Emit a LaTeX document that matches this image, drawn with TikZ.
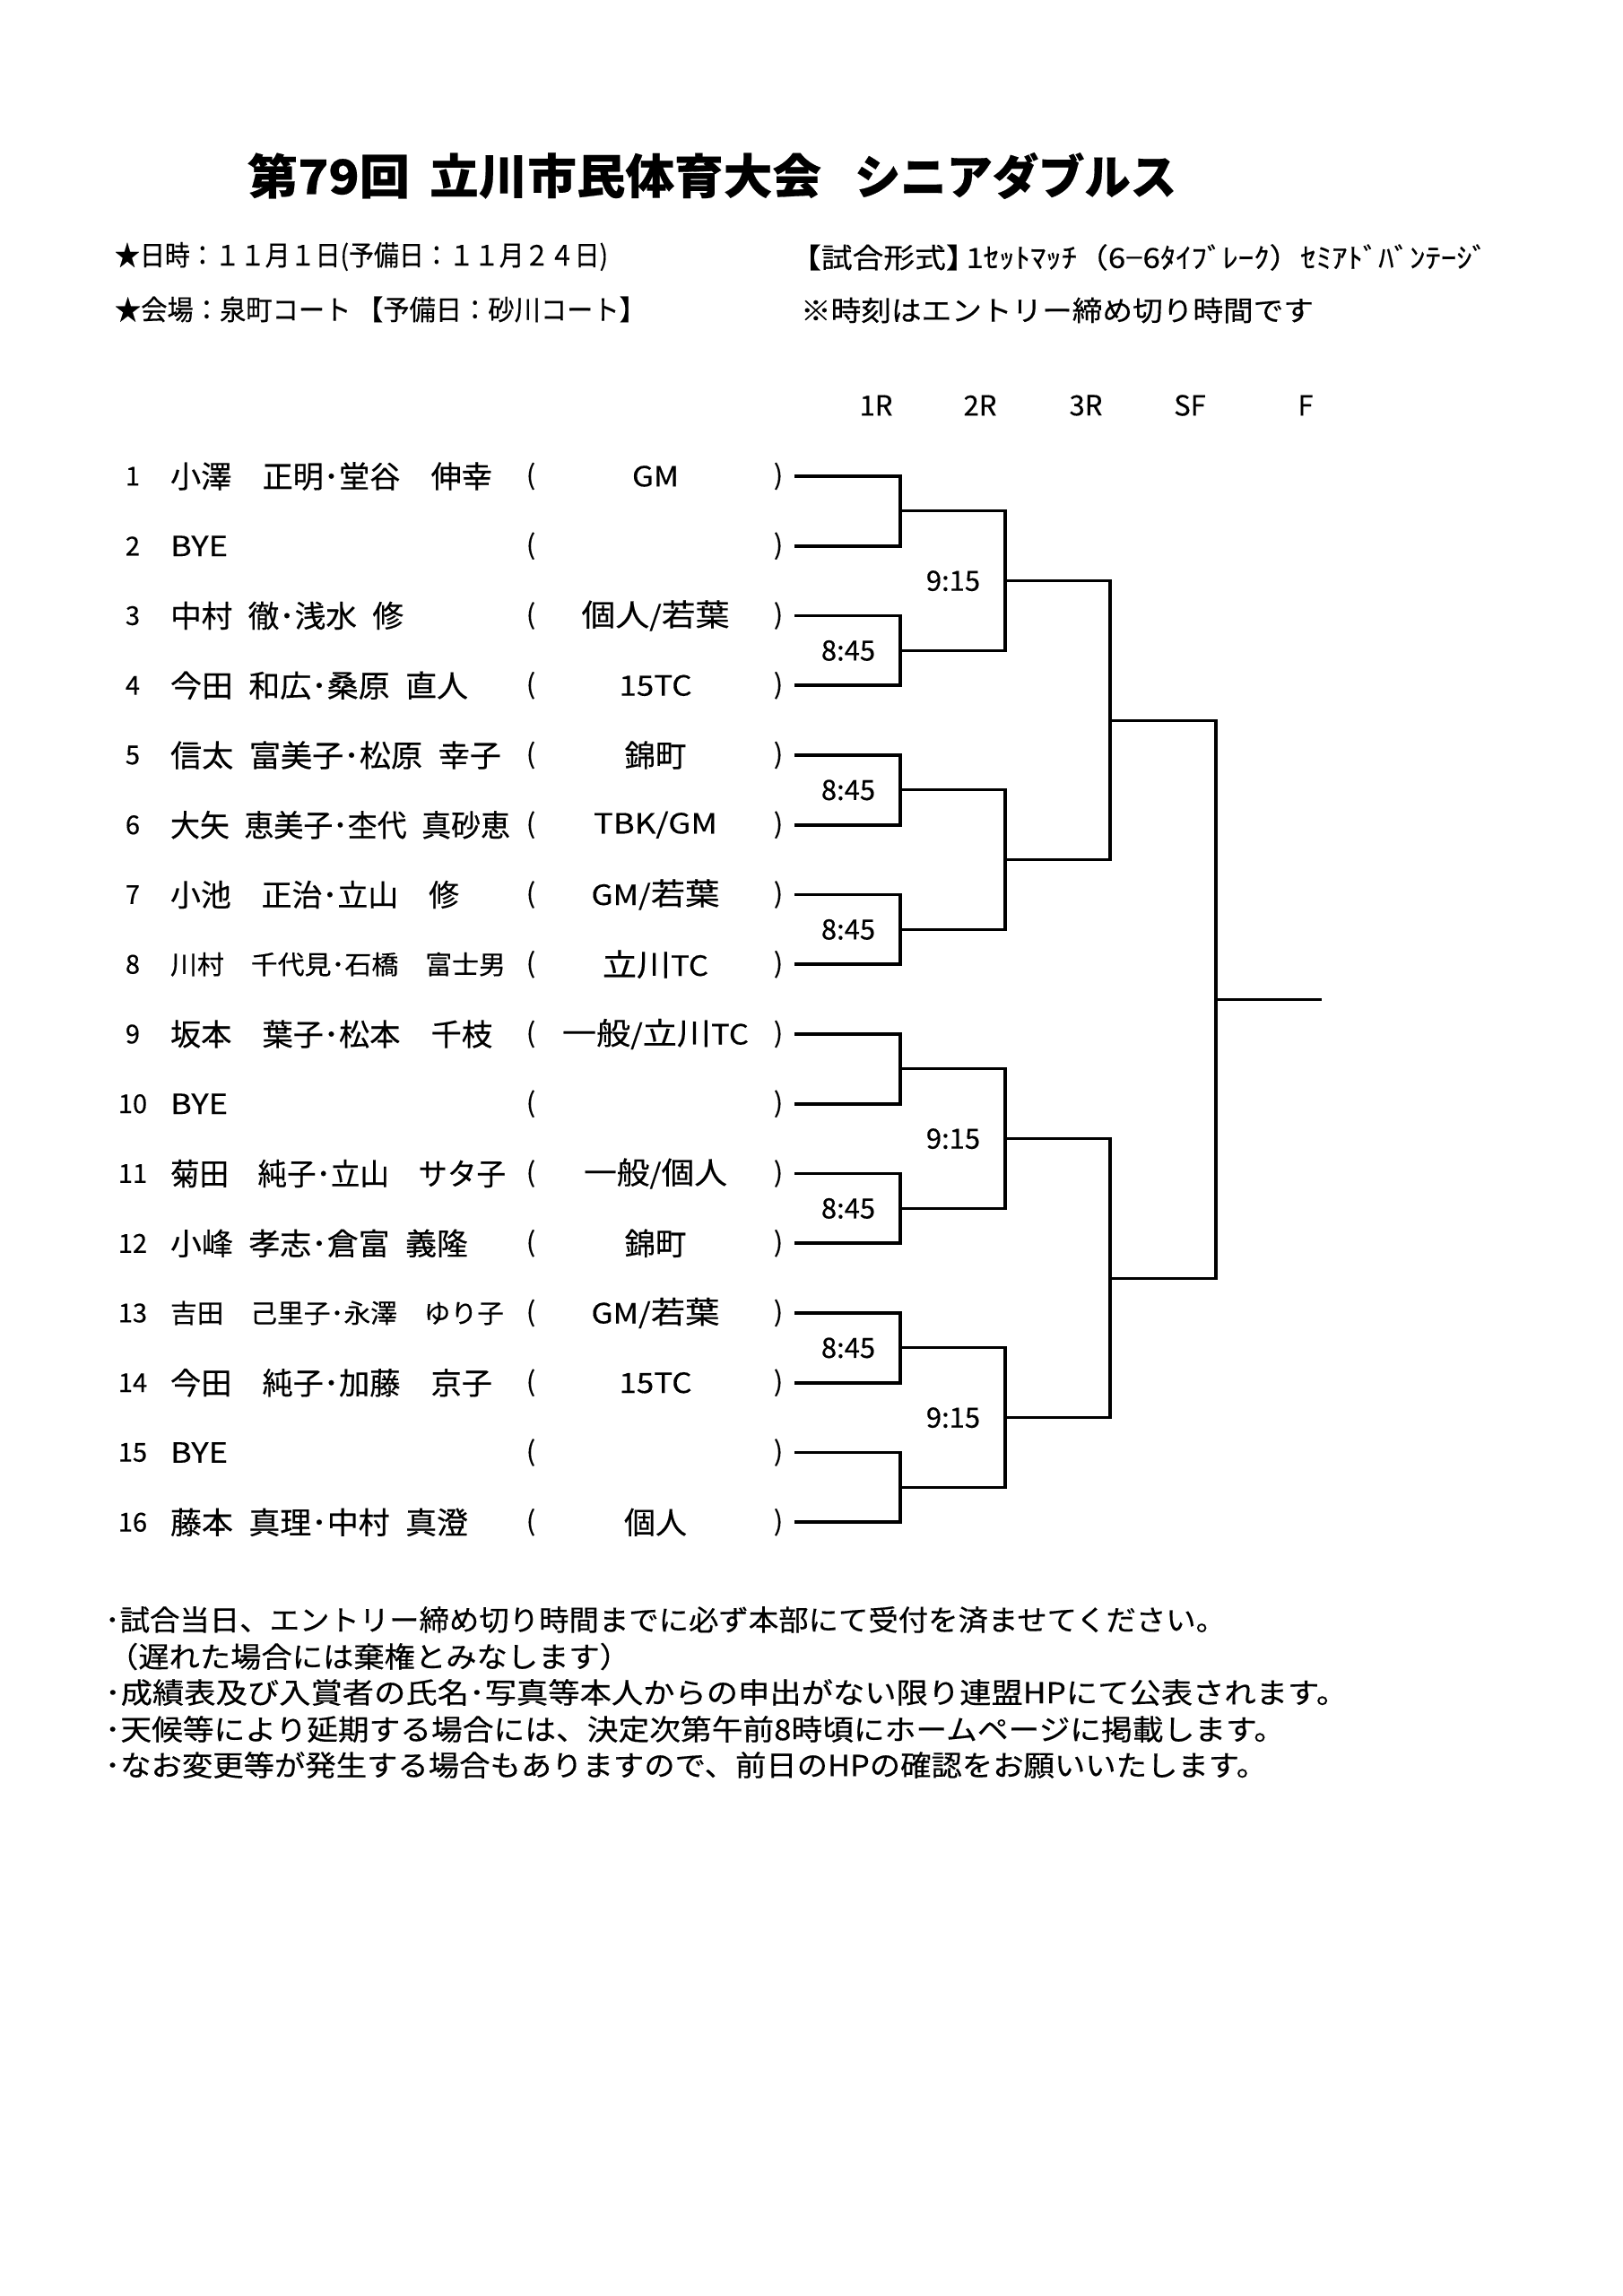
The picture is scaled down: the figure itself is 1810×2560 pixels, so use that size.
\documentclass[tikz,border=0pt]{standalone}
\usepackage{fontspec}
\usepackage{graphicx}
\setmainfont{Noto Sans CJK JP}[FakeBold=0.35]
\newcommand\fsz[1]{\fontsize{#1}{#1}\selectfont}
\newcommand\fw[2]{\resizebox{#1pt}{\height}{#2}}
\newcommand\lat[1]{{\fsz{31}#1}}
\newcommand\hsp{\hspace{0.5em}}
\tikzset{
  txt/.style={inner sep=0pt, outer sep=0pt, text=black},
  num/.style={txt, font=\fsz{29}},
  par/.style={txt, font=\fsz{30}},
  lbl/.style={txt, font=\fsz{31}},
  brk/.style={line width=3.8pt, line join=miter},
  lnk/.style={line width=3.2pt, line join=miter}
}
\newcommand\entry[3]{%
  \node[num] (n#1) at (148,{531+77.75*(#1-1)}) {#1};
  \node[txt, anchor=west] (nm#1) at (190,{531+77.75*(#1-1)}) {#2};
  \node[par] (lp#1) at (592,{531+77.75*(#1-1)}) {(};
  \node[txt] (c#1) at (731,{531+77.75*(#1-1)}) {#3};
  \node[par] (rp#1) at (868,{531+77.75*(#1-1)}) {)};
  \coordinate (p#1) at (886,{531+77.75*(#1-1)});
}
\begin{document}
\begin{tikzpicture}[x=1pt,y=-1pt]
\fill[white] (0,0) rectangle (1810,2560);
\useasboundingbox (0,0) rectangle (1810,2560);

% title
\node[txt, anchor=west] (t1) at (276,196) {\fw{181}{\fsz{53}\bfseries 第79回}};
\node[txt, anchor=west] (t2) at (479,196) {\fw{437}{\fsz{53}\bfseries 立川市民体育大会}};
\node[txt, anchor=west] (t3) at (953,196) {\fw{359}{\fsz{53}\bfseries シニアダブルス}};

% info
\node[txt, anchor=west] (i1) at (128,286) {\fw{550}{\fsz{31}★日時：１１月１日(予備日：１１月２４日)}};
\node[txt, anchor=west] (i2) at (128,345) {\fw{592}{\fsz{31}★会場：泉町コート 【予備日：砂川コート】}};
\node[txt, anchor=west] (i3) at (881,287) {\fw{778}{\fsz{31}【試合形式】\hspace{-0.35em}1ｾｯﾄﾏｯﾁ（6−6ﾀｲﾌﾞﾚｰｸ）ｾﾐｱﾄﾞﾊﾞﾝﾃｰｼﾞ}};
\node[txt, anchor=west] (i4) at (893,346) {\fw{572}{\fsz{31}※時刻はエントリー締め切り時間です}};

% round headers
\node[lbl] (h1) at (977,452) {1R};
\node[lbl] (h2) at (1093,452) {2R};
\node[lbl] (h3) at (1211,452) {3R};
\node[lbl] (h4) at (1327,452) {SF};
\node[lbl] (h5) at (1456,452) {F};

% entries
\entry{1}{\fw{359}{\fsz{34}小澤　正明･堂谷　伸幸}}{\fw{52}{\lat{GM}}}
\entry{2}{\fw{64}{\lat{BYE}}}{}
\entry{3}{\fw{260}{\fsz{34}中村\hsp 徹･浅水\hsp 修}}{\fw{165}{\fsz{34}個人\lat{/}若葉}}
\entry{4}{\fw{332}{\fsz{34}今田\hsp 和広･桑原\hsp 直人}}{\fw{81}{\lat{15TC}}}
\entry{5}{\fw{369}{\fsz{34}信太\hsp 富美子･松原\hsp 幸子}}{\fw{69}{\fsz{34}錦町}}
\entry{6}{\fw{379}{\fsz{34}大矢\hsp 恵美子･杢代\hsp 真砂恵}}{\fw{138}{\lat{TBK/GM}}}
\entry{7}{\fw{322}{\fsz{34}小池　正治･立山　修}}{\fw{143}{\fsz{34}\lat{GM/}若葉}}
\entry{8}{\fw{374}{\fsz{29}川村　千代見･石橋　富士男}}{\fw{118}{\fsz{34}立川\lat{TC}}}
\entry{9}{\fw{359}{\fsz{34}坂本　葉子･松本　千枝}}{\fw{208}{\fsz{34}一般\lat{/}立川\lat{TC}}}
\entry{10}{\fw{64}{\lat{BYE}}}{}
\entry{11}{\fw{374}{\fsz{34}菊田　純子･立山　サタ子}}{\fw{160}{\fsz{34}一般\lat{/}個人}}
\entry{12}{\fw{332}{\fsz{34}小峰\hsp 孝志･倉富\hsp 義隆}}{\fw{69}{\fsz{34}錦町}}
\entry{13}{\fw{372}{\fsz{29}吉田　己里子･永澤　ゆり子}}{\fw{143}{\fsz{34}\lat{GM/}若葉}}
\entry{14}{\fw{359}{\fsz{34}今田　純子･加藤　京子}}{\fw{81}{\lat{15TC}}}
\entry{15}{\fw{64}{\lat{BYE}}}{}
\entry{16}{\fw{332}{\fsz{34}藤本\hsp 真理･中村\hsp 真澄}}{\fw{70}{\fsz{34}個人}}

% bracket coordinates
\foreach \k in {1,...,8} \coordinate (a\k) at (1004,{531+77.75*(2*\k-1.5)});
\foreach \k in {1,...,4} \coordinate (b\k) at (1121,{531+77.75*(4*\k-2.5)});
\foreach \k in {1,2} \coordinate (q\k) at (1238,{531+77.75*(8*\k-4.5)});
\coordinate (d) at (1356,{531+77.75*7.5});
\coordinate (fin) at (1474,{531+77.75*7.5});

% first round
\foreach \k [evaluate=\k as \u using int(2*\k-1), evaluate=\k as \v using int(2*\k)] in {1,...,8}
  \draw[brk] (p\u) -| (a\k) |- (p\v);
% later rounds
\foreach \k [evaluate=\k as \u using int(2*\k-1), evaluate=\k as \v using int(2*\k)] in {1,...,4}
  \draw[lnk] (a\u) -| (b\k) |- (a\v);
\draw[lnk] (b1) -| (q1) |- (b2);
\draw[lnk] (b3) -| (q2) |- (b4);
\draw[lnk] (q1) -| (d) |- (q2);
\draw[lnk] (d) -- (fin);

% times
\node[lbl] (s1) at (1063,{531+77.75*1.5}) {9:15};
\node[lbl] (s2) at (946,{531+77.75*2.5}) {8:45};
\node[lbl] (s3) at (946,{531+77.75*4.5}) {8:45};
\node[lbl] (s4) at (946,{531+77.75*6.5}) {8:45};
\node[lbl] (s5) at (1063,{531+77.75*9.5}) {9:15};
\node[lbl] (s6) at (946,{531+77.75*10.5}) {8:45};
\node[lbl] (s7) at (946,{531+77.75*12.5}) {8:45};
\node[lbl] (s8) at (1063,{531+77.75*13.5}) {9:15};

% notes
\node[txt, anchor=west] (w1) at (117,1806) {\fw{1250}{\fsz{32}･試合当日、エントリー締め切り時間までに必ず本部にて受付を済ませてください。}};
\node[txt, anchor=west] (w2) at (120,1847) {\fw{583}{\fsz{32}（遅れた場合には棄権とみなします）}};
\node[txt, anchor=west] (w3) at (117,1887) {\fw{1386}{\fsz{32}･成績表及び入賞者の氏名･写真等本人からの申出がない限り連盟HPにて公表されます。}};
\node[txt, anchor=west] (w4) at (117,1928) {\fw{1316}{\fsz{32}･天候等により延期する場合には、決定次第午前8時頃にホームページに掲載します。}};
\node[txt, anchor=west] (w5) at (117,1968) {\fw{1296}{\fsz{32}･なお変更等が発生する場合もありますので、前日のHPの確認をお願いいたします。}};
\end{tikzpicture}
\end{document}
